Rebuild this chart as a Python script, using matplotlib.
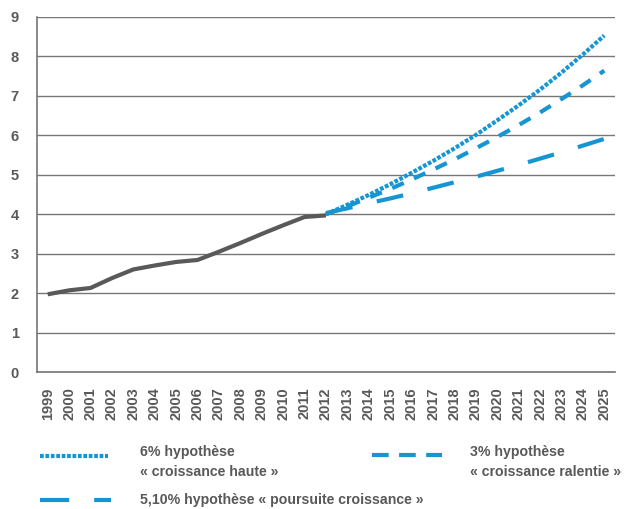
import matplotlib.pyplot as plt
from matplotlib.lines import Line2D
import numpy as np

plt.rcParams['font.family'] = ['Liberation Sans', 'DejaVu Sans']

# années (axe des catégories)
annees = [str(a) for a in range(1999, 2026)]

# historique 1999-2012
hist = [1.97, 2.07, 2.13, 2.38, 2.60, 2.70, 2.79, 2.84, 3.05, 3.27, 3.50, 3.72, 3.93, 3.97]

# projections 2012-2025
proj_6 = [4.00, 4.24, 4.49, 4.76, 5.05, 5.35, 5.67, 6.01, 6.38, 6.76, 7.16, 7.59, 8.05, 8.53]
proj_51 = [4.00, 4.20, 4.42, 4.64, 4.88, 5.13, 5.39, 5.67, 5.96, 6.26, 6.58, 6.92, 7.27, 7.64]
proj_3 = [4.03, 4.15, 4.28, 4.40, 4.53, 4.67, 4.81, 4.95, 5.10, 5.25, 5.41, 5.57, 5.74, 5.91]

bleu = '#1695d3'
gris = '#595959'
texte = '#595959'

fig = plt.figure(figsize=(6.32, 5.09), dpi=100)
ax = fig.add_axes([37/632, 1-372/509, (615-37)/632, (372-17)/509])

x = np.arange(len(annees))
ax.plot(x[:len(hist)], hist, color=gris, lw=3, solid_capstyle='butt')
x_proj = x[len(hist)-1:]
ax.plot(x_proj, proj_6, color=bleu, lw=3, linestyle=(0, (0.9, 0.4)))
ax.plot(x_proj, proj_51, color=bleu, lw=3, linestyle=(0, (3, 2.7)), dash_capstyle='butt')
ax.plot(x_proj, proj_3, color=bleu, lw=3, linestyle=(0, (6.5, 6)), dash_capstyle='butt')

ax.set_xlim(-0.5, len(annees)-0.5)
ax.set_ylim(0, 9)
ax.set_xticks(x)
ax.set_xticklabels(annees, rotation=90)
ax.set_yticks(range(0, 10))
for lab in ax.get_xticklabels() + ax.get_yticklabels():
    lab.set_fontweight('bold')
    lab.set_color(texte)
    lab.set_fontsize(10.5)
ax.tick_params(axis='both', length=0)
ax.tick_params(axis='y', pad=13)
ax.tick_params(axis='x', pad=11)

ax.grid(axis='y', color='#767676', lw=1)
ax.set_axisbelow(True)
for s in ['top', 'right']:
    ax.spines[s].set_visible(False)
for s in ['left', 'bottom']:
    ax.spines[s].set_color('#767676')
    ax.spines[s].set_linewidth(1.2)

# légende faite à la main
def echantillon(x0, x1, y, style):
    fig.add_artist(Line2D([x0/632, x1/632], [1-y/509, 1-y/509], color=bleu, lw=3,
                          linestyle=style, dash_capstyle='butt', transform=fig.transFigure))

echantillon(40, 108, 456, (0, (0.9, 0.4)))
echantillon(372, 442, 455, (0, (4, 2.5)))
echantillon(40, 111, 500, (0, (7, 6)))

kw = dict(fontsize=10.2, fontweight='bold', color=texte, va='center', ha='left')
fig.text(140/632, 1-452/509, '6% hypothèse', **kw)
fig.text(140/632, 1-472/509, '« croissance haute »', **kw)
fig.text(470/632, 1-452/509, '3% hypothèse', **kw)
fig.text(470/632, 1-472/509, '« croissance ralentie »', **kw)
fig.text(140/632, 1-500/509, '5,10% hypothèse « poursuite croissance »', **kw)

fig.savefig('out.png', dpi=100)
